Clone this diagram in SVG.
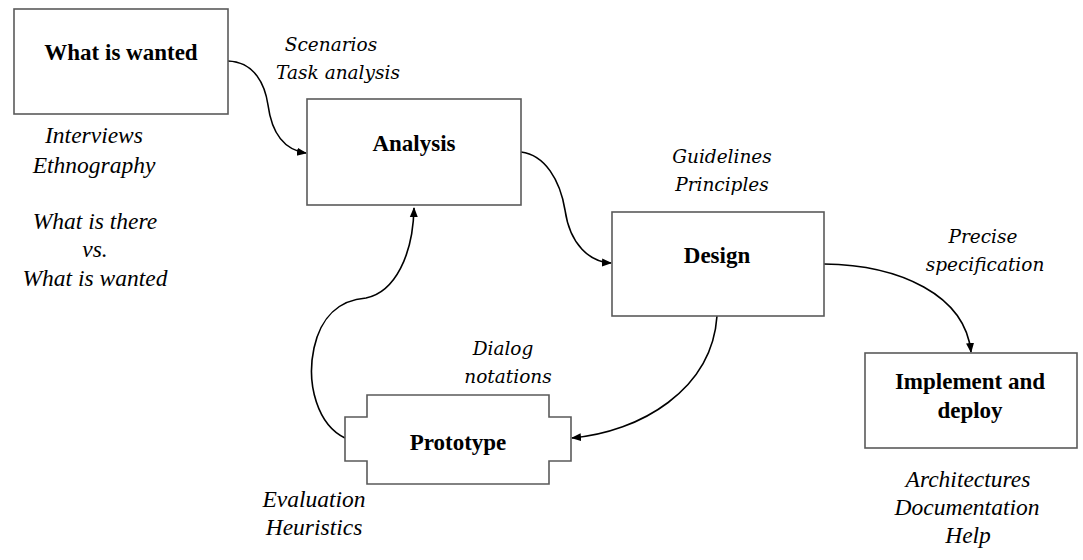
<svg xmlns="http://www.w3.org/2000/svg" width="1083" height="560" viewBox="0 0 1083 560">
<style>
.box{fill:#fff;stroke:#5a5a5a;stroke-width:1.6}
.t{font-family:"Liberation Serif","Times New Roman",serif;font-weight:bold;font-size:23px;fill:#000;text-anchor:middle}
.i{font-family:"Liberation Serif","Times New Roman",serif;font-style:italic;font-size:23.5px;fill:#000;text-anchor:middle}
.c{font-family:"DejaVu Serif","Liberation Serif",serif;font-style:italic;font-size:18.5px;fill:#000;text-anchor:middle}
.e{fill:none;stroke:#000;stroke-width:1.6}
</style>
<defs>
<marker id="ah" viewBox="0 0 10 10" refX="9" refY="5" markerWidth="10" markerHeight="10" markerUnits="userSpaceOnUse" orient="auto">
<path d="M0,1 L10,5 L0,9 z" fill="#000"/>
</marker>
</defs>
<rect width="1083" height="560" fill="#fff"/>
<g id="connectors">
<path class="e" d="M228,61 C255,62 265,85 268,105 C272,135 285,150 306,153" marker-end="url(#ah)"/>
<path class="e" d="M521,152 C545,155 560,180 565,210 C570,245 590,262 611,263" marker-end="url(#ah)"/>
<path class="e" d="M824,264 C900,265 965,295 971,352" marker-end="url(#ah)"/>
<path class="e" d="M717,316 C712,390 640,432 572,438" marker-end="url(#ah)"/>
<path class="e" d="M345,438 C318,425 306,385 314,348 C321,316 340,300 366,298 C395,292 413,255 414,208" marker-end="url(#ah)"/>
</g>
<g id="what-is-wanted">
<rect class="box" x="14" y="9" width="214" height="105"/>
<text class="t" x="121" y="60">What is wanted</text>
</g>
<g id="analysis">
<rect class="box" x="307" y="99" width="214" height="106"/>
<text class="t" x="414" y="151">Analysis</text>
</g>
<g id="design">
<rect class="box" x="612" y="212" width="212" height="104"/>
<text class="t" x="717" y="263">Design</text>
</g>
<g id="implement">
<rect class="box" x="865" y="353" width="212" height="95"/>
<text class="t" x="970" y="389">Implement and</text>
<text class="t" x="970" y="418">deploy</text>
</g>
<g id="prototype">
<path class="box" d="M367,395 L549,395 L549,417 L571,417 L571,461 L549,461 L549,484 L367,484 L367,461 L345,461 L345,417 L367,417 Z"/>
<text class="t" x="458" y="450">Prototype</text>
</g>
<g id="labels">
<text class="c" x="331" y="51">Scenarios</text>
<text class="c" x="338" y="79">Task analysis</text>
<text class="i" x="94" y="143">Interviews</text>
<text class="i" x="94" y="173">Ethnography</text>
<text class="i" x="95" y="229">What is there</text>
<text class="i" x="95" y="257">vs.</text>
<text class="i" x="95" y="286">What is wanted</text>
<text class="c" x="722" y="163">Guidelines</text>
<text class="c" x="722" y="191">Principles</text>
<text class="c" x="983" y="243">Precise</text>
<text class="c" x="985" y="271">specification</text>
<text class="c" x="503" y="355">Dialog</text>
<text class="c" x="508" y="383">notations</text>
<text class="i" x="314" y="507">Evaluation</text>
<text class="i" x="314" y="535">Heuristics</text>
<text class="i" x="968" y="487">Architectures</text>
<text class="i" x="967" y="515">Documentation</text>
<text class="i" x="968" y="543">Help</text>
</g>
</svg>
